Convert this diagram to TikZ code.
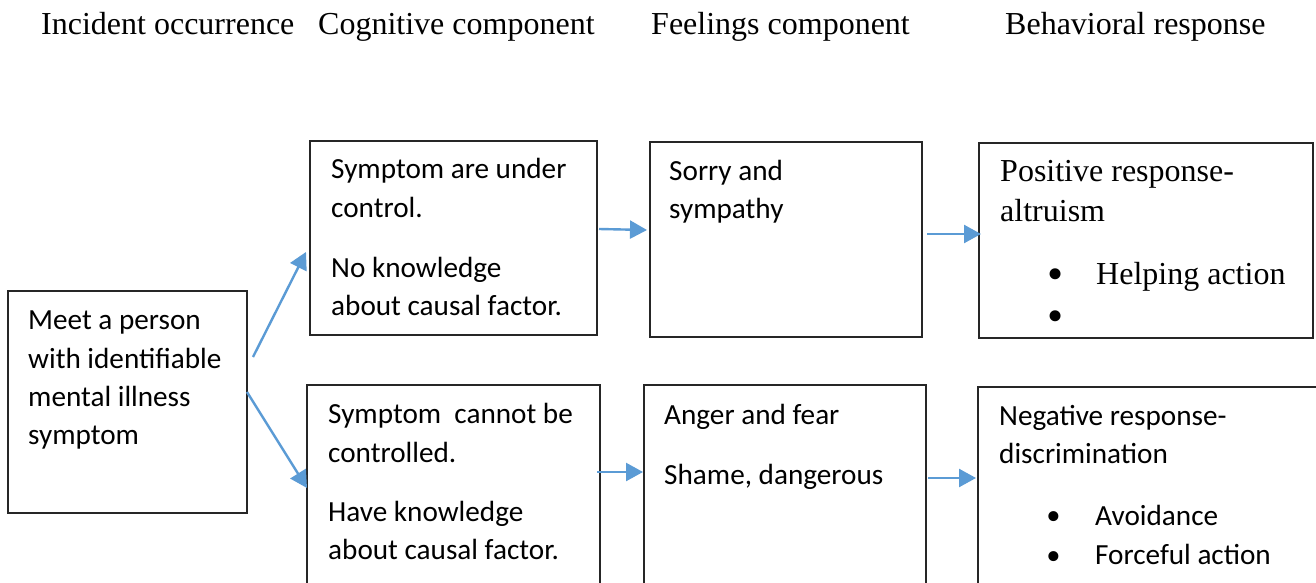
\documentclass[tikz,border=0pt]{standalone}
\usepackage{fontspec}
\setmainfont{Liberation Serif}
\newfontfamily\calibri{Carlito}
\usetikzlibrary{arrows.meta}
\definecolor{arrblue}{HTML}{5B9BD5}
\definecolor{boxline}{HTML}{262626}
\begin{document}
\begin{tikzpicture}[x=1pt,y=-1pt,
  box/.style={draw=boxline,line width=1.3pt,inner sep=0pt,outer sep=0pt,fill=white},
  hdr/.style={anchor=base west,inner sep=0pt,font=\fontsize{32}{38}\selectfont},
  ttx/.style={anchor=base west,inner sep=0pt,font=\fontsize{32}{38}\selectfont},
  ctx/.style={anchor=base west,inner sep=0pt,font=\calibri\fontsize{29.2}{35}\selectfont},
  bul/.style={anchor=base west,inner sep=0pt,font=\fontsize{46}{50}\selectfont},
  bulsm/.style={anchor=base west,inner sep=0pt,font=\fontsize{42}{46}\selectfont},
  arr/.style={draw=arrblue,line width=2.4pt,-{Triangle[length=17pt,width=18pt]}}]
\useasboundingbox (0,0) rectangle (1316,583);
\clip (0,0) rectangle (1316,583);
\fill[white] (0,0) rectangle (1316,583);

% headers
\node[hdr] (h1) at (41,35) {Incident occurrence};
\node[hdr] (h2) at (318,35) {Cognitive component};
\node[hdr] (h3) at (651,35) {Feelings component};
\node[hdr] (h4) at (1005,35) {Behavioral response};

% boxes
\node[box,minimum width=239pt,minimum height=222pt] (left) at (127.5,402) {};
\node[box,minimum width=287pt,minimum height=194pt] (cogT) at (453.5,238) {};
\node[box,minimum width=293pt,minimum height=220pt] (cogB) at (453.5,495) {};
\node[box,minimum width=272pt,minimum height=195pt] (feelT) at (786,239.5) {};
\node[box,minimum width=282pt,minimum height=220pt] (feelB) at (785,495) {};
\node[box,minimum width=334pt,minimum height=195pt] (behT) at (1146,240.5) {};
\node[box,minimum width=352pt,minimum height=218pt] (behB) at (1154,496) {};

% left box text
\node[ctx] (l1) at (28,329) {Meet a person};
\node[ctx] (l2) at (28,368) {with identifiable};
\node[ctx] (l3) at (28,406) {mental illness};
\node[ctx] (l4) at (28,444) {symptom};

% cognitive top
\node[ctx] (ct1) at (331,178) {Symptom are under};
\node[ctx] (ct2) at (331,217) {control.};
\node[ctx] (ct3) at (331,277) {No knowledge};
\node[ctx] (ct4) at (331,315) {about causal factor.};

% cognitive bottom
\node[ctx] (cb1) at (328,423) {Symptom\ \ cannot be};
\node[ctx] (cb2) at (328,462) {controlled.};
\node[ctx] (cb3) at (328,521) {Have knowledge};
\node[ctx] (cb4) at (328,559) {about causal factor.};

% feelings
\node[ctx] (ft1) at (669,180) {Sorry and};
\node[ctx] (ft2) at (669,218) {sympathy};
\node[ctx] (fb1) at (664,424) {Anger and fear};
\node[ctx] (fb2) at (664,484) {Shame, dangerous};

% behavioral top
\node[ttx] (bt1) at (1000,181) {Positive response-};
\node[ttx] (bt2) at (1000,221) {altruism};
\node[bul] (btb1) at (1047,289) {•};
\node[ttx] (bt3) at (1096,284) {Helping action};
\node[bul] (btb2) at (1047,331) {•};

% behavioral bottom
\node[ctx] (bb1) at (999,425) {Negative response-};
\node[ctx] (bb2) at (999,463) {discrimination};
\node[bulsm] (bbb1) at (1046,530) {•};
\node[ctx] (bb3) at (1095,525) {Avoidance};
\node[bulsm] (bbb2) at (1046,570) {•};
\node[ctx] (bb4) at (1095,564) {Forceful action};

% arrows
\draw[arr] ([shift={(6,-45)}]left.east) -- ([shift={(-4,14)}]cogT.west);
\draw[arr] ([shift={(0,-10)}]left.east) -- ([shift={(0,-7)}]cogB.west);
\draw[arr] ([shift={(2,-9)}]cogT.east) -- ([shift={(-3,-9.5)}]feelT.west);
\draw[arr] ([shift={(-3,-23)}]cogB.east) -- ([shift={(-1,-23)}]feelB.west);
\draw[arr] ([shift={(5,-5.5)}]feelT.east) -- ([shift={(2,-6.5)}]behT.west);
\draw[arr] ([shift={(2,-17)}]feelB.east) -- ([shift={(-2,-18)}]behB.west);
\end{tikzpicture}
\end{document}
